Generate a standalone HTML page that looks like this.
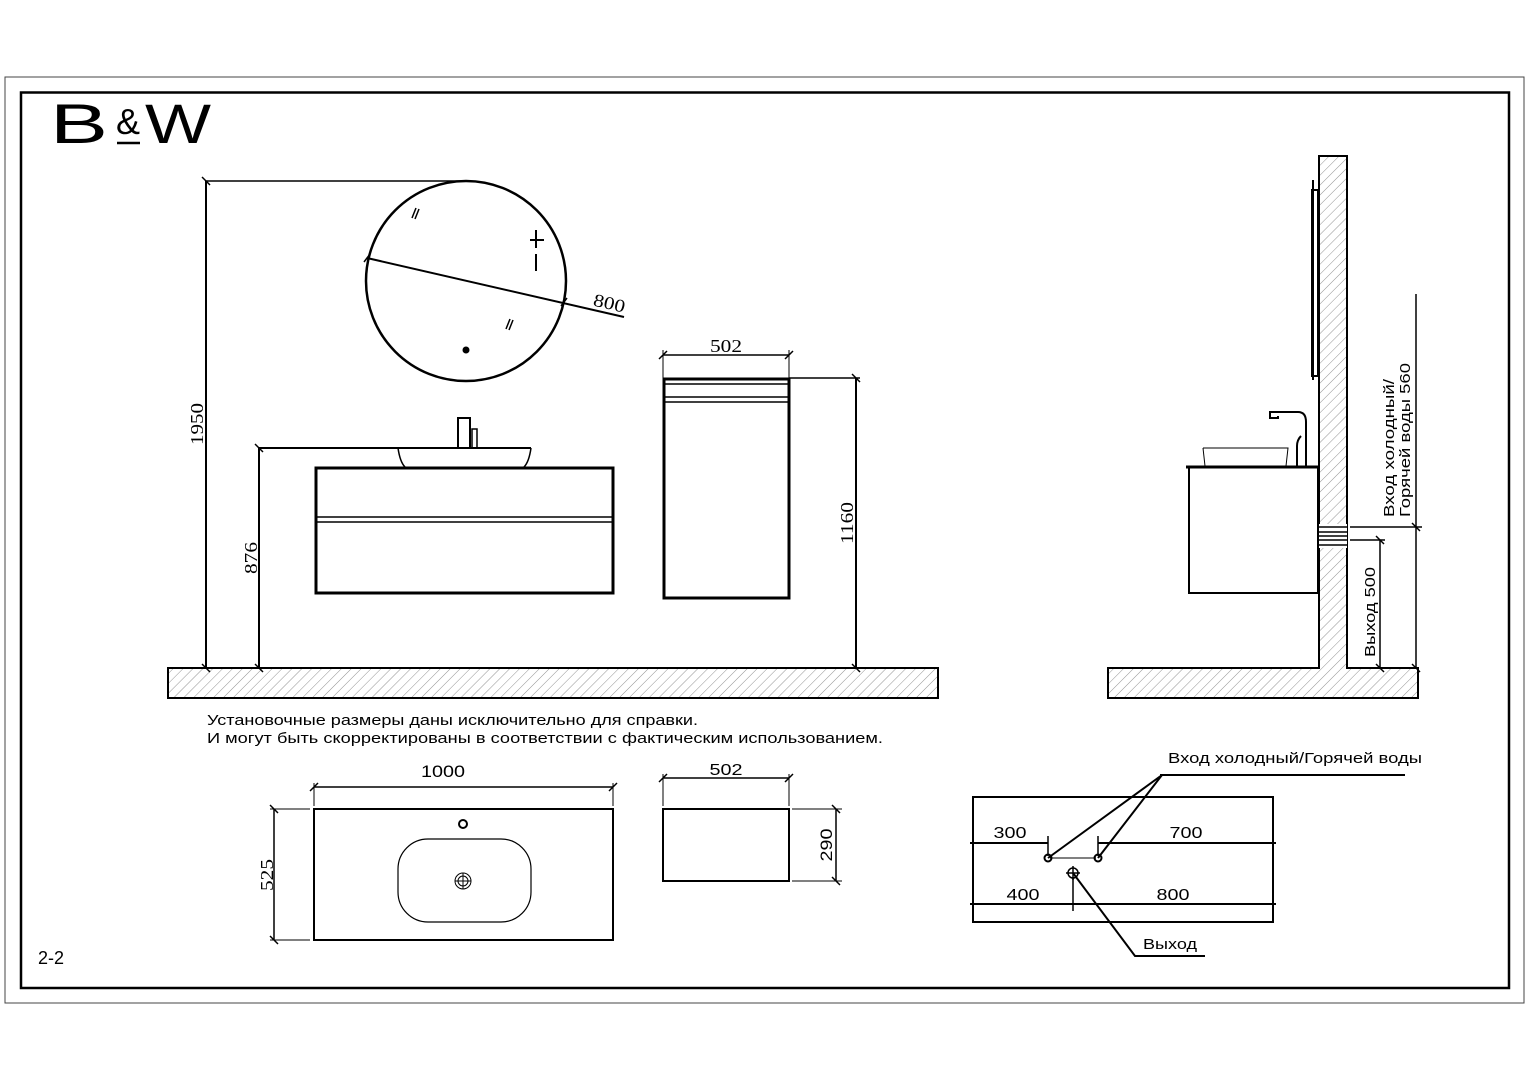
<!DOCTYPE html>
<html><head><meta charset="utf-8"><style>
html,body{margin:0;padding:0;background:#fff;}
svg{display:block;}
.s{font-family:"Liberation Sans",sans-serif;}
.r{font-family:"Liberation Serif",serif;}
</style></head><body>
<svg width="1528" height="1080" viewBox="0 0 1528 1080" xmlns="http://www.w3.org/2000/svg">
<defs>
<pattern id="h" width="7" height="7" patternUnits="userSpaceOnUse" patternTransform="rotate(45)">
<line x1="0" y1="0" x2="0" y2="7" stroke="#777" stroke-width="0.8"/>
</pattern>
</defs>
<rect width="1528" height="1080" fill="#fff"/>
<rect x="5" y="77" width="1519" height="926" fill="none" stroke="#444" stroke-width="1"/>
<rect x="21" y="92.5" width="1488" height="895.5" fill="none" stroke="#000" stroke-width="2.5"/>

<text x="50" y="143" class="s" font-size="56" textLength="58" lengthAdjust="spacingAndGlyphs" fill="#000">B</text>
<text x="116" y="134" class="s" font-size="36" fill="#000">&amp;</text>
<line x1="117" y1="143" x2="140" y2="143" stroke="#000" stroke-width="2.5"/>
<text x="145" y="143" class="s" font-size="56" textLength="66" lengthAdjust="spacingAndGlyphs" fill="#000">W</text>

<g stroke="#000" fill="none">
<rect x="168" y="668" width="770" height="30" fill="url(#h)" stroke-width="2"/>
<circle cx="466" cy="281" r="100" stroke-width="2.5"/>
<line x1="367" y1="258" x2="624" y2="317" stroke-width="2"/>
<line x1="206" y1="181" x2="466" y2="181" stroke-width="1.5"/>
<line x1="206" y1="181" x2="206" y2="668" stroke-width="2"/>
<line x1="259" y1="448" x2="400" y2="448" stroke-width="2"/>
<line x1="259" y1="448" x2="259" y2="668" stroke-width="2"/>
<line x1="530" y1="240" x2="544" y2="240" stroke-width="2"/>
<line x1="536" y1="230" x2="536" y2="248" stroke-width="2"/>
<line x1="536" y1="254" x2="536" y2="271" stroke-width="2"/>
<line x1="412" y1="218" x2="416" y2="208" stroke-width="1.5"/><line x1="415" y1="219" x2="419" y2="209" stroke-width="1.5"/>
<line x1="506" y1="329" x2="510" y2="319" stroke-width="1.5"/><line x1="509" y1="330" x2="513" y2="320" stroke-width="1.5"/>
<g stroke-width="1.5">
<line x1="202" y1="177" x2="210" y2="185"/><line x1="202" y1="664" x2="210" y2="672"/>
<line x1="255" y1="444" x2="263" y2="452"/><line x1="255" y1="664" x2="263" y2="672"/>
<line x1="364" y1="262" x2="370" y2="254"/><line x1="561" y1="306" x2="567" y2="298"/>
</g>
<rect x="316" y="468" width="297" height="125" stroke-width="3"/>
<line x1="316" y1="517" x2="613" y2="517" stroke-width="1.5"/>
<line x1="316" y1="522" x2="613" y2="522" stroke-width="1.5"/>
<line x1="398" y1="448" x2="531" y2="448" stroke-width="2"/>
<path d="M398 448 Q400 462 405 467 M531 448 Q529 462 524 467" stroke-width="1.5"/>
<rect x="458" y="418" width="12" height="30" stroke-width="2"/>
<rect x="472" y="429" width="5" height="19" stroke-width="1.5"/>
<rect x="664" y="379" width="125" height="219" stroke-width="3"/>
<line x1="664" y1="384" x2="789" y2="384" stroke-width="1.5"/>
<line x1="664" y1="397" x2="789" y2="397" stroke-width="1.5"/>
<line x1="664" y1="402" x2="789" y2="402" stroke-width="1.5"/>
<line x1="663" y1="355" x2="789" y2="355" stroke-width="1.5"/>
<line x1="663" y1="350" x2="663" y2="378" stroke-width="1"/><line x1="789" y1="350" x2="789" y2="378" stroke-width="1"/>
<line x1="659" y1="359" x2="667" y2="351" stroke-width="1.5"/><line x1="785" y1="359" x2="793" y2="351" stroke-width="1.5"/>
<line x1="789" y1="378" x2="860" y2="378" stroke-width="1.5"/>
<line x1="856" y1="378" x2="856" y2="668" stroke-width="2"/>
<line x1="852" y1="374" x2="860" y2="382" stroke-width="1.5"/><line x1="852" y1="664" x2="860" y2="672" stroke-width="1.5"/>

<path d="M1108 668 H1319 V156 H1347 V668 H1418 V698 H1108 Z" fill="url(#h)" stroke-width="2"/>
<rect x="1319" y="524" width="28" height="24" fill="#fff" stroke="none"/>
<g stroke-width="1.5"><line x1="1317" y1="527" x2="1347" y2="527"/><line x1="1319" y1="532" x2="1347" y2="532"/><line x1="1319" y1="536" x2="1347" y2="536"/><line x1="1317" y1="540" x2="1347" y2="540"/><line x1="1319" y1="545" x2="1347" y2="545"/></g>
<rect x="1312" y="190" width="6" height="186" stroke-width="2"/>
<line x1="1313" y1="180" x2="1313" y2="380" stroke-width="2"/>
<rect x="1189" y="467" width="129" height="126" stroke-width="2"/>
<line x1="1186" y1="467" x2="1318" y2="467" stroke-width="3"/>
<path d="M1203 448 H1288 L1286 466 M1203 448 L1205 466" stroke-width="1"/>
<path d="M1297 466 V446 Q1297 440 1301 436 M1306 466 V422 Q1306 412 1298 412 H1270 V418 H1278 V416" stroke-width="2"/>
<line x1="1350" y1="527" x2="1422" y2="527" stroke-width="1.5"/>
<line x1="1416" y1="294" x2="1416" y2="668" stroke-width="1.5"/>
<line x1="1412" y1="523" x2="1420" y2="531" stroke-width="1.5"/><line x1="1412" y1="664" x2="1420" y2="672" stroke-width="1.5"/>
<line x1="1350" y1="540" x2="1385" y2="540" stroke-width="1.5"/>
<line x1="1380" y1="540" x2="1380" y2="668" stroke-width="1.5"/>
<line x1="1376" y1="536" x2="1384" y2="544" stroke-width="1.5"/><line x1="1376" y1="664" x2="1384" y2="672" stroke-width="1.5"/>

<rect x="314" y="809" width="299" height="131" stroke-width="2"/>
<line x1="314" y1="787" x2="613" y2="787" stroke-width="1.5"/>
<line x1="314" y1="783" x2="314" y2="806" stroke-width="1"/><line x1="613" y1="783" x2="613" y2="806" stroke-width="1"/>
<line x1="310" y1="791" x2="318" y2="783" stroke-width="1.5"/><line x1="609" y1="791" x2="617" y2="783" stroke-width="1.5"/>
<line x1="270" y1="809" x2="310" y2="809" stroke-width="1"/><line x1="270" y1="940" x2="310" y2="940" stroke-width="1"/>
<line x1="274" y1="809" x2="274" y2="940" stroke-width="1.5"/>
<line x1="270" y1="805" x2="278" y2="813" stroke-width="1.5"/><line x1="270" y1="936" x2="278" y2="944" stroke-width="1.5"/>
<rect x="398" y="839" width="133" height="83" rx="30" stroke-width="1.2"/>
<circle cx="463" cy="881" r="8" stroke-width="1"/><circle cx="463" cy="881" r="5" stroke-width="1"/>
<line x1="455" y1="881" x2="471" y2="881" stroke-width="1"/><line x1="463" y1="873" x2="463" y2="889" stroke-width="1"/>
<circle cx="463" cy="824" r="4" stroke-width="2"/>
<rect x="663" y="809" width="126" height="72" stroke-width="2"/>
<line x1="663" y1="778" x2="789" y2="778" stroke-width="1.5"/>
<line x1="663" y1="774" x2="663" y2="806" stroke-width="1"/><line x1="789" y1="774" x2="789" y2="806" stroke-width="1"/>
<line x1="659" y1="782" x2="667" y2="774" stroke-width="1.5"/><line x1="785" y1="782" x2="793" y2="774" stroke-width="1.5"/>
<line x1="792" y1="809" x2="842" y2="809" stroke-width="1"/><line x1="792" y1="881" x2="842" y2="881" stroke-width="1"/>
<line x1="836" y1="809" x2="836" y2="881" stroke-width="1.5"/>
<line x1="832" y1="805" x2="840" y2="813" stroke-width="1.5"/><line x1="832" y1="877" x2="840" y2="885" stroke-width="1.5"/>

<rect x="973" y="797" width="300" height="125" stroke-width="2"/>
<line x1="970" y1="843" x2="1048" y2="843" stroke-width="2"/>
<line x1="1098" y1="843" x2="1276" y2="843" stroke-width="2"/>
<line x1="970" y1="904" x2="1276" y2="904" stroke-width="2"/>
<line x1="1048" y1="836" x2="1048" y2="856" stroke-width="1.5"/>
<line x1="1098" y1="836" x2="1098" y2="856" stroke-width="1.5"/>
<line x1="1073" y1="877" x2="1073" y2="911" stroke-width="1.5"/>
<line x1="1050" y1="858" x2="1096" y2="858" stroke-width="1"/>
<circle cx="1048" cy="858" r="3.5" stroke-width="2"/>
<circle cx="1098" cy="858" r="3.5" stroke-width="2"/>
<circle cx="1073" cy="873" r="5" stroke-width="1.5"/>
<line x1="1066" y1="873" x2="1080" y2="873" stroke-width="1.5"/><line x1="1073" y1="866" x2="1073" y2="880" stroke-width="1.5"/>
<polyline points="1048,858 1162,775 1098,858" stroke-width="2"/>
<line x1="1160" y1="775" x2="1405" y2="775" stroke-width="2"/>
<polyline points="1073,873 1135,956 1205,956" stroke-width="2"/>
</g>

<g fill="#000">
<text class="r" font-size="18" transform="translate(203,424) rotate(-90)" text-anchor="middle" textLength="42" lengthAdjust="spacingAndGlyphs">1950</text>
<text class="r" font-size="18" transform="translate(257,558) rotate(-90)" text-anchor="middle" textLength="32" lengthAdjust="spacingAndGlyphs">876</text>
<text class="r" font-size="18" transform="translate(853,523) rotate(-90)" text-anchor="middle" textLength="42" lengthAdjust="spacingAndGlyphs">1160</text>
<text class="r" font-size="18" x="726" y="352" text-anchor="middle" textLength="32" lengthAdjust="spacingAndGlyphs">502</text>
<text class="r" font-size="18" transform="translate(608,309) rotate(13)" text-anchor="middle" textLength="32" lengthAdjust="spacingAndGlyphs">800</text>
<text class="s" font-size="15" transform="translate(1394,448) rotate(-90)" text-anchor="middle" textLength="138" lengthAdjust="spacingAndGlyphs">Вход холодный/</text>
<text class="s" font-size="15" transform="translate(1410,440) rotate(-90)" text-anchor="middle" textLength="154" lengthAdjust="spacingAndGlyphs">Горячей воды 560</text>
<text class="s" font-size="15" transform="translate(1375,612) rotate(-90)" text-anchor="middle" textLength="90" lengthAdjust="spacingAndGlyphs">Выход 500</text>
<text class="s" font-size="15" x="207" y="725" textLength="491" lengthAdjust="spacingAndGlyphs">Установочные размеры даны исключительно для справки.</text>
<text class="s" font-size="15" x="207" y="743" textLength="676" lengthAdjust="spacingAndGlyphs">И могут быть скорректированы в соответствии с фактическим использованием.</text>
<text class="s" font-size="17" x="443" y="777" text-anchor="middle" textLength="44" lengthAdjust="spacingAndGlyphs">1000</text>
<text class="r" font-size="18" transform="translate(273,875) rotate(-90)" text-anchor="middle" textLength="32" lengthAdjust="spacingAndGlyphs">525</text>
<text class="s" font-size="16" x="726" y="775" text-anchor="middle" textLength="33" lengthAdjust="spacingAndGlyphs">502</text>
<text class="s" font-size="17" transform="translate(832,845) rotate(-90)" text-anchor="middle" textLength="33" lengthAdjust="spacingAndGlyphs">290</text>
<text class="s" font-size="16" x="1010" y="838" text-anchor="middle" textLength="33" lengthAdjust="spacingAndGlyphs">300</text>
<text class="s" font-size="16" x="1186" y="838" text-anchor="middle" textLength="33" lengthAdjust="spacingAndGlyphs">700</text>
<text class="s" font-size="16" x="1023" y="900" text-anchor="middle" textLength="33" lengthAdjust="spacingAndGlyphs">400</text>
<text class="s" font-size="16" x="1173" y="900" text-anchor="middle" textLength="33" lengthAdjust="spacingAndGlyphs">800</text>
<text class="s" font-size="15" x="1168" y="763" textLength="254" lengthAdjust="spacingAndGlyphs">Вход холодный/Горячей воды</text>
<text class="s" font-size="15" x="1143" y="949" textLength="54" lengthAdjust="spacingAndGlyphs">Выход</text>
<text class="s" font-size="18" x="38" y="964">2-2</text>
</g>
<circle cx="466" cy="350" r="3.5" fill="#000"/>
</svg>
</body></html>
